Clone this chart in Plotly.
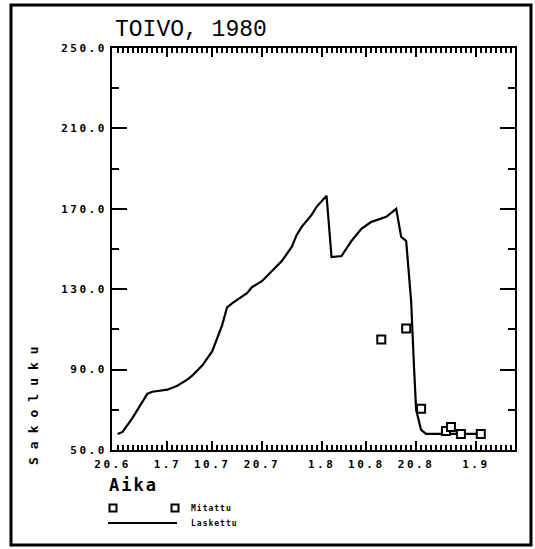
import pandas as pd
import plotly.graph_objects as go

# ---- data ----
title_text = "TOIVO, 1980"
y_title = "Sakoluku"
x_title = "Aika"
legend_measured = "Mitattu"
legend_computed = "Laskettu"

line_dates = ["1980-06-21", "1980-06-22", "1980-06-24", "1980-06-27", "1980-06-28",
              "1980-07-01", "1980-07-03", "1980-07-05", "1980-07-06", "1980-07-08",
              "1980-07-10", "1980-07-12", "1980-07-13", "1980-07-14", "1980-07-17",
              "1980-07-18", "1980-07-20", "1980-07-22", "1980-07-24", "1980-07-26",
              "1980-07-27", "1980-07-28", "1980-07-30", "1980-07-31", "1980-08-02",
              "1980-08-03", "1980-08-05", "1980-08-07", "1980-08-09", "1980-08-11",
              "1980-08-13", "1980-08-14", "1980-08-16", "1980-08-17", "1980-08-18",
              "1980-08-19", "1980-08-19 14:00", "1980-08-20", "1980-08-21", "1980-08-22",
              "1980-09-02 12:00"]
line_values = [58, 59, 66, 78, 79,
               80, 82, 85, 87, 92,
               99, 112, 121, 123, 128,
               131, 134, 139, 144, 151,
               157, 161, 167, 171, 176.5,
               146, 146.5, 154, 160, 163.5,
               165, 166, 170, 156, 154,
               124, 91, 70, 60, 58,
               58]

meas_dates = ["1980-08-13", "1980-08-18", "1980-08-21", "1980-08-26", "1980-08-27",
              "1980-08-29", "1980-09-02"]
meas_values = [105, 110.5, 70.5, 59.5, 61.5, 58, 58]

x_tick_dates = ["1980-06-20", "1980-07-01", "1980-07-10", "1980-07-20",
                "1980-08-01", "1980-08-10", "1980-08-20", "1980-09-01"]
x_tick_text = ["20.6", "1.7", "10.7", "20.7", "1.8", "10.8", "20.8", "1.9"]
y_tick_vals = [50, 90, 130, 170, 210, 250]
y_tick_text = ["50.0", "90.0", "130.0", "170.0", "210.0", "250.0"]
y_minor_vals = [50, 70, 90, 110, 130, 150, 170, 190, 210, 230, 250]

x_range = ["1980-06-19 21:00", "1980-09-08 21:00"]
y_range = [50, 250]
day_ticks = [d.strftime("%Y-%m-%d") for d in pd.date_range("1980-06-20", "1980-09-08", freq="D")]

# ---- layout geometry (pixels) ----
W, H = 535, 549
L, R, T, B = 112, 20, 48, 99
PW, PH = W - L - R, H - T - B


def px(x):
    return (x - L) / PW


def py(y):
    return (H - B - y) / PH


FONT_MONO = "DejaVu Sans Mono"
tick_font = dict(family=FONT_MONO, size=11, color="black", weight="bold")


def spaced(s, sp):
    return '<span style="letter-spacing:%gpx">%s</span>' % (sp, s)


fig = go.Figure()
fig.add_trace(go.Scatter(x=line_dates, y=line_values, mode="lines",
                         line=dict(color="black", width=2.2), name=legend_computed,
                         showlegend=False))
fig.add_trace(go.Scatter(x=meas_dates, y=meas_values, mode="markers",
                         marker=dict(symbol="square", size=8, color="white",
                                     line=dict(color="black", width=2)),
                         name=legend_measured, showlegend=False))
# invisible trace carrying the day-tick overlay axes
fig.add_trace(go.Scatter(x=[line_dates[0]], y=[line_values[0]], xaxis="x2", yaxis="y2",
                         mode="markers", marker=dict(opacity=0), showlegend=False,
                         hoverinfo="skip"))

fig.update_layout(
    width=W, height=H,
    margin=dict(l=L, r=R, t=T, b=B, autoexpand=False),
    paper_bgcolor="white", plot_bgcolor="white",
    showlegend=False,
    xaxis=dict(type="date", range=x_range, showgrid=False, zeroline=False,
               showline=True, linecolor="black", linewidth=2, mirror="ticks",
               ticks="inside", ticklen=9, tickwidth=2, tickcolor="black",
               tickmode="array", tickvals=x_tick_dates,
               ticktext=[spaced(t, 2.5) for t in x_tick_text],
               tickfont=tick_font, ticklabelstandoff=3),
    xaxis2=dict(type="date", overlaying="x", range=x_range, side="bottom",
                anchor="y2",
                showgrid=False, zeroline=False,
                showline=True, linecolor="black", linewidth=2, mirror="ticks",
                ticks="inside", ticklen=5, tickwidth=1.5, tickcolor="black",
                tickmode="array", tickvals=day_ticks,
                ticktext=[""] * len(day_ticks), showticklabels=False),
    yaxis=dict(range=y_range, showgrid=False, zeroline=False,
               showline=True, linecolor="black", linewidth=2, mirror="ticks",
               ticks="inside", ticklen=15, tickwidth=2, tickcolor="black",
               tickmode="array", tickvals=y_tick_vals,
               ticktext=[spaced(t, 2.5) for t in y_tick_text],
               tickfont=tick_font, ticklabelstandoff=1),
    yaxis2=dict(overlaying="y", range=y_range, side="left", anchor="x2",
                showgrid=False, zeroline=False,
                showline=True, linecolor="black", linewidth=2, mirror="ticks",
                ticks="inside", ticklen=7, tickwidth=2, tickcolor="black",
                tickmode="array", tickvals=y_minor_vals,
                ticktext=[""] * len(y_minor_vals), showticklabels=False),
)

annotations = [
    dict(text=title_text, x=px(113), y=py(30), xref="paper", yref="paper",
         xanchor="left", yanchor="middle", showarrow=False,
         font=dict(family="Liberation Mono", size=23, color="black")),
    dict(text=spaced(y_title, 8), x=px(33), y=py(402), xref="paper", yref="paper",
         xanchor="center", yanchor="middle", textangle=-90, showarrow=False,
         font=dict(family=FONT_MONO, size=13, color="black", weight="bold")),
    dict(text=spaced(x_title, 2), x=px(107), y=py(485), xref="paper", yref="paper",
         xanchor="left", yanchor="middle", showarrow=False,
         font=dict(family=FONT_MONO, size=17, color="black", weight="bold")),
    dict(text=spaced(legend_measured, 1), x=px(189), y=py(508), xref="paper", yref="paper",
         xanchor="left", yanchor="middle", showarrow=False,
         font=dict(family=FONT_MONO, size=8, color="black", weight="bold")),
    dict(text=spaced(legend_computed, 1), x=px(189), y=py(523), xref="paper", yref="paper",
         xanchor="left", yanchor="middle", showarrow=False,
         font=dict(family=FONT_MONO, size=8, color="black", weight="bold")),
]
fig.update_layout(annotations=annotations)

shapes = [
    # outer frame
    dict(type="rect", xref="paper", yref="paper", x0=px(11), x1=px(531),
         y0=py(545), y1=py(5), line=dict(color="black", width=3)),
    # legend line
    dict(type="line", xref="paper", yref="paper", x0=px(108), x1=px(177),
         y0=py(523), y1=py(523), line=dict(color="black", width=2)),
]
for cx in (113, 175):
    shapes.append(dict(type="rect", xref="paper", yref="paper",
                       xsizemode="pixel", ysizemode="pixel",
                       xanchor=px(cx), yanchor=py(508),
                       x0=-3.5, x1=3.5, y0=-3.5, y1=3.5,
                       line=dict(color="black", width=2), fillcolor="white"))
fig.update_layout(shapes=shapes)

fig.write_html("out.html")
